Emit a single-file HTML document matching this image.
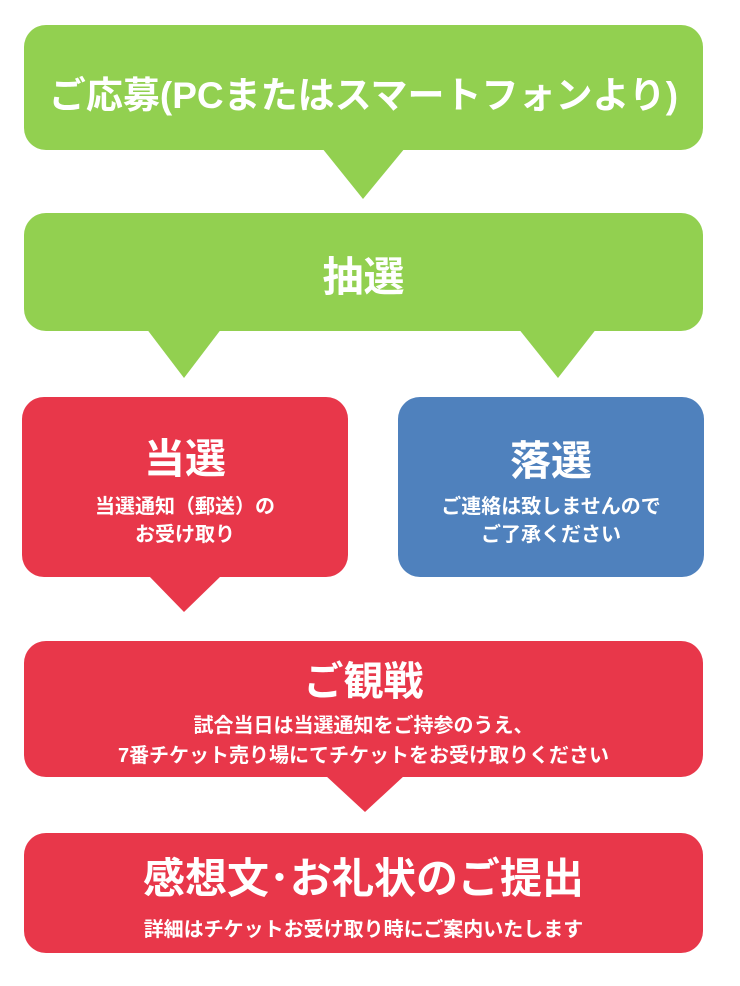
<!DOCTYPE html>
<html><head><meta charset="utf-8"><style>
body{margin:0;width:740px;height:986px;background:#fff;position:relative;overflow:hidden;font-family:"Liberation Sans","Noto Sans CJK JP",sans-serif;font-weight:bold;color:#fff}
.b{position:absolute;border-radius:22px;text-align:center}
.g{background:#92d050}.r{background:#e8374a}.bl{background:#4f81bd}
svg{position:absolute;left:0;top:0}
.t{position:absolute;left:0;right:0;text-align:center;white-space:nowrap}
</style></head><body>
<svg width="740" height="986">
<polygon points="322,148 405,148 363,199" fill="#92d050"/>
<polygon points="146,328 222,328 184,378" fill="#92d050"/>
<polygon points="518,328 597,328 558,378" fill="#92d050"/>
<polygon points="148,575 222,575 184,612" fill="#e8374a"/>
<polygon points="325,775 405,775 365,812" fill="#e8374a"/>
</svg>
<div class="b g" style="left:24px;top:25px;width:679px;height:125px"><div class="t" style="top:40px;font-size:37px">ご応募(PCまたはスマートフォンより)</div></div>
<div class="b g" style="left:24px;top:213px;width:679px;height:118px"><div class="t" style="top:30px;font-size:41px">抽選</div></div>
<div class="b r" style="left:22px;top:397px;width:326px;height:180px"><div class="t" style="top:28px;font-size:41px">当選</div><div class="t" style="top:96px;font-size:20px;line-height:28px">当選通知（郵送）の<br>お受け取り</div></div>
<div class="b bl" style="left:398px;top:397px;width:306px;height:180px"><div class="t" style="top:30px;font-size:41px">落選</div><div class="t" style="top:96px;font-size:20px;line-height:28px">ご連絡は致しませんので<br>ご了承ください</div></div>
<div class="b r" style="left:24px;top:641px;width:679px;height:136px"><div class="t" style="top:8px;font-size:40px">ご観戦</div><div class="t" style="top:70px;font-size:20px;line-height:30px">試合当日は当選通知をご持参のうえ、<br>7番チケット売り場にてチケットをお受け取りください</div></div>
<div class="b r" style="left:24px;top:833px;width:679px;height:120px"><div class="t" style="top:12px;font-size:42px">感想文･お礼状のご提出</div><div class="t" style="top:80px;font-size:20px">詳細はチケットお受け取り時にご案内いたします</div></div>
</body></html>
